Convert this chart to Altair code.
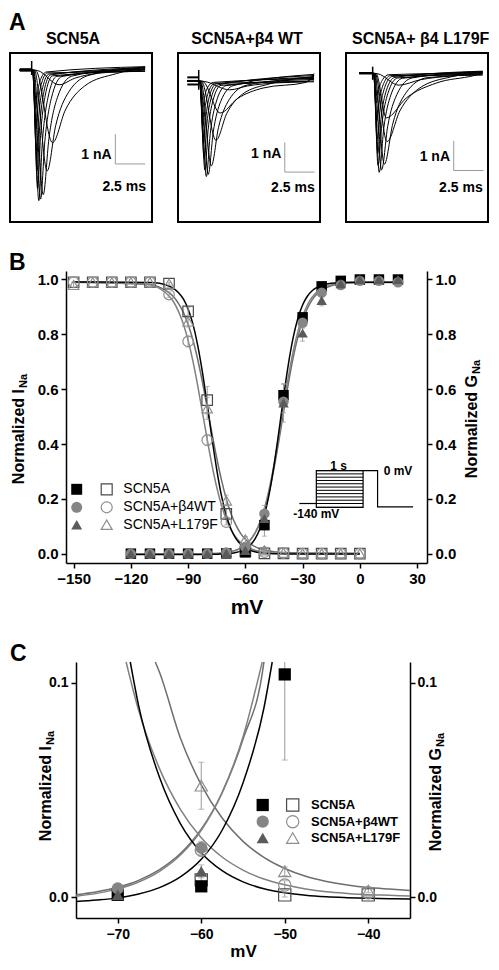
import altair as alt
import pandas as pd

FONT = "Liberation Sans"
ONE = pd.DataFrame({"k": [0]})
W, H = 483, 954  # whole figure drawn in one view (page minus 8px margins)

# ---------------- Panel A: current traces (t in ms, I in nA) ----------------
box_titles = ["SCN5A", "SCN5A+β4 WT", "SCN5A+ β4 L179F"]
t_domain = [[-1.82, 10.11], [-1.74, 10.19], [-2.24, 9.69]]
i_domain = [[-5.12, 0.57], [-4.75, 0.94], [-5.0, 0.68]]
stub_start = [-1.0, -0.96, -1.13]
stub_levels = [[0.0], [0.12, 0.0, -0.12], [0.0]]
stub_width = [3.5, 2, 2.5]
artifact_top = [0.3, 0.37, 0.22]
artifact_bottom = [-0.17, -0.3, -0.22]
trace_end = [9.53, 9.69, 9.24]
bar_t = [7.03, 7.23, 6.81]
bar_i = [-3.165, -3.07, -3.27]
bar_nA = 1.0
bar_ms = 2.5

traces_scn5a = [
    [[0.5, -0.02], [2.3, -0.5], [3.62, -0.28], [5.6, -0.11], [8.9, -0.03]],
    [[0.35, -0.02], [1.75, -2.45], [2.83, -1.35], [4.45, -0.54], [7.15, -0.12]],
    [[0.25, -0.02], [1.3, -3.4], [2.02, -1.87], [3.1, -0.75], [4.9, -0.17]],
    [[0.18, -0.02], [0.97, -4.2], [1.45, -2.31], [2.17, -0.92], [3.37, -0.21]],
    [[0.15, -0.02], [0.75, -4.35], [1.11, -2.39], [1.65, -0.96], [2.55, -0.22]],
    [[0.12, -0.02], [0.6, -4.4], [0.9, -2.42], [1.35, -0.97], [2.1, -0.22]],
    [[0.1, -0.02], [0.5, -4.0], [0.75, -2.2], [1.13, -0.88], [1.76, -0.2]],
    [[0.1, -0.02], [0.45, -3.4], [0.68, -1.87], [1.02, -0.75], [1.59, -0.17]],
    [[0.08, -0.02], [0.4, -2.7], [0.61, -1.49], [0.93, -0.59], [1.45, -0.14]],
    [[0.08, -0.02], [0.36, -2.0], [0.55, -1.1], [0.84, -0.44], [1.32, -0.1]],
    [[0.07, -0.02], [0.33, -1.3], [0.51, -0.72], [0.78, -0.29], [1.23, -0.07]],
]
tail_scn5a = [0.05, 0.1, 0.07, 0.09, 0.04, 0.0, -0.03, 0.08, 0.02, -0.05, 0.11]

traces_b4wt = [
    [[0.5, -0.02], [2.6, -0.3], [4.1, -0.17], [6.35, -0.07], [9.1, -0.02]],
    [[0.35, -0.02], [1.8, -1.08], [3.24, -0.6], [5.4, -0.24], [9.0, -0.05]],
    [[0.25, -0.02], [1.45, -2.0], [2.35, -1.1], [3.7, -0.44], [5.95, -0.1]],
    [[0.2, -0.02], [1.06, -2.86], [1.66, -1.57], [2.56, -0.63], [4.06, -0.14]],
    [[0.15, -0.02], [0.8, -3.15], [1.22, -1.73], [1.85, -0.69], [2.9, -0.16]],
    [[0.12, -0.02], [0.64, -3.22], [0.97, -1.77], [1.47, -0.71], [2.29, -0.16]],
    [[0.1, -0.02], [0.52, -3.0], [0.79, -1.65], [1.2, -0.66], [1.87, -0.15]],
    [[0.1, -0.02], [0.45, -2.6], [0.69, -1.43], [1.05, -0.57], [1.65, -0.13]],
    [[0.08, -0.02], [0.4, -2.1], [0.62, -1.16], [0.94, -0.46], [1.48, -0.1]],
    [[0.08, -0.02], [0.36, -1.5], [0.56, -0.83], [0.86, -0.33], [1.35, -0.08]],
    [[0.07, -0.02], [0.33, -0.9], [0.51, -0.5], [0.78, -0.2], [1.23, -0.05]],
]
tail_b4wt = [0.2, 0.25, 0.15, 0.1, 0.22, 0.05, 0.0, 0.18, 0.12, -0.03, 0.08]

traces_l179f = [
    [[0.45, -0.02], [2.2, -0.4], [4.0, -0.22], [6.7, -0.09], [8.8, -0.03]],
    [[0.3, -0.02], [1.15, -1.5], [2.83, -0.83], [5.35, -0.33], [8.5, -0.08]],
    [[0.22, -0.02], [1.2, -2.3], [2.28, -1.27], [3.9, -0.51], [6.6, -0.12]],
    [[0.18, -0.02], [0.98, -3.06], [1.7, -1.68], [2.78, -0.67], [4.58, -0.15]],
    [[0.15, -0.02], [0.75, -3.25], [1.26, -1.79], [2.03, -0.72], [3.3, -0.16]],
    [[0.12, -0.02], [0.55, -3.33], [0.94, -1.83], [1.53, -0.73], [2.5, -0.17]],
    [[0.1, -0.02], [0.45, -3.1], [0.78, -1.7], [1.28, -0.68], [2.1, -0.16]],
    [[0.1, -0.02], [0.42, -2.7], [0.71, -1.49], [1.14, -0.59], [1.86, -0.14]],
    [[0.08, -0.02], [0.38, -2.2], [0.63, -1.21], [1.01, -0.48], [1.64, -0.11]],
    [[0.08, -0.02], [0.35, -1.6], [0.58, -0.88], [0.92, -0.35], [1.49, -0.08]],
    [[0.07, -0.02], [0.32, -1.0], [0.52, -0.55], [0.83, -0.22], [1.34, -0.05]],
]
tail_l179f = [0.05, 0.0, 0.03, -0.05, 0.06, 0.02, -0.02, 0.07, 0.04, -0.06, 0.01]

all_traces = [traces_scn5a, traces_b4wt, traces_l179f]
all_tails = [tail_scn5a, tail_b4wt, tail_l179f]

# ---------------- Panel B / C: steady-state data ----------------
series = ["SCN5A", "SCN5A+β4WT", "SCN5A+L179F"]
shapes = ["square", "circle", "triangle-up"]
curve_colors = ["#000000", "#808080", "#6e6e6e"]
filled_colors = ["#000000", "#858585", "#5a5a5a"]
open_colors = ["#4a4a4a", "#8e8e8e", "#8e8e8e"]

V_in = [-150, -140, -130, -120, -110, -100, -90, -80, -70, -60, -50, -40, -30, -20, -10, 0]
inact_scn5a = [0.99, 0.99, 0.99, 0.99, 0.99, 0.985, 0.884, 0.56, 0.145, 0.008, 0.001, 0.001, 0.0, 0.0, 0.0, 0.0]
inact_scn5a_err = [0, 0, 0, 0, 0, 0.005, 0.015, 0.05, 0.02, 0.003, 0.001, 0, 0, 0, 0, 0]
inact_b4wt = [0.99, 0.99, 0.99, 0.99, 0.99, 0.945, 0.774, 0.414, 0.115, 0.022, 0.0056, 0.002, 0.0, 0.0, 0.0, 0.0]
inact_b4wt_err = [0, 0, 0, 0, 0, 0.01, 0.02, 0.02, 0.01, 0.003, 0.002, 0, 0, 0, 0, 0]
inact_l179f = [0.98, 0.99, 0.99, 0.99, 0.99, 0.985, 0.847, 0.53, 0.194, 0.052, 0.012, 0.003, 0.001, 0.001, 0.001, 0.001]
inact_l179f_err = [0.01, 0, 0, 0, 0, 0, 0.02, 0.04, 0.02, 0.011, 0.002, 0.001, 0, 0, 0, 0]

V_ac = [-120, -110, -100, -90, -80, -70, -60, -50, -40, -30, -20, -10, 0, 10, 20]
act_scn5a = [0, 0, 0, 0, 0, 0.001, 0.005, 0.104, 0.578, 0.862, 0.975, 0.995, 1.0, 1.0, 1.0]
act_scn5a_err = [0, 0, 0, 0, 0, 0, 0.002, 0.04, 0.04, 0.01, 0.005, 0, 0, 0, 0]
act_b4wt = [0, 0, 0, 0, 0, 0.004, 0.023, 0.146, 0.554, 0.842, 0.952, 0.98, 0.995, 0.995, 0.99]
act_b4wt_err = [0, 0, 0, 0, 0, 0.001, 0.003, 0.03, 0.04, 0.02, 0.01, 0, 0, 0, 0]
act_l179f = [0, 0, 0, 0, 0, 0.001, 0.012, 0.128, 0.55, 0.805, 0.924, 0.985, 1.0, 1.0, 1.0]
act_l179f_err = [0, 0, 0, 0, 0, 0, 0.003, 0.02, 0.07, 0.03, 0.02, 0.005, 0, 0, 0]

# fitted Boltzmann curves
V_fit_in = [-150, -110, -105, -100, -97.5, -95, -92.5, -90, -87.5, -85, -82.5, -80, -77.5, -75,
            -72.5, -70, -67.5, -65, -62.5, -60, -57.5, -55, -52.5, -50, -47.5, -45, -42.5, -40,
            -37.5, -35, -30, -20, 0]
fit_in_scn5a = [0.991, 0.989, 0.986, 0.976, 0.967, 0.952, 0.929, 0.892, 0.838, 0.761, 0.662, 0.544,
                0.421, 0.307, 0.211, 0.140, 0.0894, 0.0559, 0.0343, 0.0207, 0.0123, 0.0071, 0.0039,
                0.0020, 0.0008, 0.0001, -0.0003, -0.0006, -0.0008, -0.0009, -0.001, -0.001, -0.001]
fit_in_b4wt = [0.992, 0.981, 0.968, 0.940, 0.917, 0.883, 0.838, 0.778, 0.703, 0.614, 0.516, 0.417,
               0.3235, 0.2424, 0.1763, 0.1252, 0.0872, 0.0600, 0.0410, 0.0277, 0.0187, 0.0126, 0.0084,
               0.0057, 0.0038, 0.0025, 0.0017, 0.0011, 0.0008, 0.0005, 0.0002, 0.0, 0.0]
fit_in_l179f = [0.990, 0.982, 0.972, 0.952, 0.936, 0.912, 0.880, 0.836, 0.780, 0.709, 0.626, 0.534,
                0.439, 0.349, 0.268, 0.200, 0.146, 0.105, 0.0743, 0.0524, 0.0369, 0.0260, 0.0185,
                0.0133, 0.0097, 0.0073, 0.0056, 0.0044, 0.0037, 0.0031, 0.0025, 0.0021, 0.002]

V_fit_ac = [-120, -90, -80, -77.5, -75, -72.5, -70, -67.5, -65, -62.5, -60, -57.5, -55, -52.5, -50,
            -47.5, -45, -42.5, -40, -37.5, -35, -32.5, -30, -27.5, -25, -22.5, -20, -15, -10, -5, 0, 20]
fit_ac_scn5a = [-0.003, -0.003, -0.0027, -0.0025, -0.0021, -0.0014, -0.0004, 0.0014, 0.0044, 0.0094,
                0.0176, 0.0312, 0.0533, 0.0882, 0.1414, 0.218, 0.320, 0.442, 0.570, 0.689, 0.786,
                0.858, 0.907, 0.939, 0.959, 0.971, 0.979, 0.986, 0.989, 0.990, 0.990, 0.990]
fit_ac_b4wt = [-0.002, -0.0018, -0.0010, -0.00045, 0.0004, 0.0017, 0.0038, 0.0070, 0.0120, 0.0196,
               0.0312, 0.0488, 0.0748, 0.1126, 0.1656, 0.2365, 0.325, 0.429, 0.538, 0.643, 0.735,
               0.810, 0.866, 0.907, 0.935, 0.954, 0.967, 0.980, 0.986, 0.988, 0.990, 0.990]
fit_ac_l179f = [-0.0015, -0.0013, -0.0004, 0.0002, 0.0011, 0.0025, 0.0046, 0.0078, 0.0128, 0.0203,
                0.0317, 0.0487, 0.0737, 0.1096, 0.1598, 0.2267, 0.311, 0.409, 0.515, 0.619, 0.713,
                0.790, 0.850, 0.894, 0.926, 0.947, 0.961, 0.977, 0.984, 0.987, 0.989, 0.989]

# where each fitted curve leaves the top of panel C (mV)
C_exit_in = [-68.5, -69.0, -65.5]
C_exit_ac = [-51.5, -52.7, -52.5]

# voltage-protocol inset (drawn in panel-B data units)
proto_hold_V = [-31.7, -22.8]
proto_hold_level = 0.183
proto_box_V = [-22.8, 1.7]
proto_box_levels = [0.303, 0.291, 0.279, 0.267, 0.255, 0.243, 0.231, 0.219, 0.207, 0.195, 0.183, 0.169]
proto_test_V = [1.7, 9.3, 9.3, 27.9]
proto_test_level = [0.303, 0.303, 0.171, 0.171]


# ---------------- helpers ----------------
def sc(domain, rng):
    return alt.Scale(domain=domain, range=rng, nice=False, zero=False)


def txt(s, x, y, size, weight="bold", align="left", baseline="alphabetic", angle=0, color="black"):
    return alt.Chart(ONE).mark_text(
        text=s, font=FONT, fontSize=size, fontWeight=weight, align=align,
        baseline=baseline, angle=angle, color=color
    ).encode(x=alt.value(x), y=alt.value(y))


def ytitle(main, sub, x, yj, size=16, subsize=11, dx=5):
    return [
        txt(main, x, yj, size, align="right", baseline="middle", angle=270),
        txt(sub, x + dx, yj - 1, subsize, align="left", baseline="middle", angle=270),
    ]


def axis_common(**kw):
    base = dict(labelFont=FONT, labelFontWeight="bold", labelColor="black", titleFont=FONT,
                titleFontWeight="bold", titleColor="black", tickColor="black", domainColor="black",
                tickWidth=1.5, domainWidth=1.5, tickSize=5, grid=False, labelFlush=False,
                labelOverlap=False)
    base.update(kw)
    return alt.Axis(**base)


layers = []

# ---------------- Panel A ----------------
rows = []
for b, (trs, tails) in enumerate(zip(all_traces, all_tails)):
    for k, pts in enumerate(trs):
        full = [[stub_start[b], 0.0], [0.0, 0.0]] + pts + [[trace_end[b], tails[k]]]
        for j, (t, i) in enumerate(full):
            rows.append({"box": b, "trace": k, "ord": j, "t": t, "I": i})
trace_df = pd.DataFrame(rows)

srows = []
for b in range(3):
    for li, lv in enumerate(stub_levels[b]):
        srows.append({"box": b, "lvl": li, "t": stub_start[b], "I": lv})
        srows.append({"box": b, "lvl": li, "t": 0.0, "I": lv})
stub_df = pd.DataFrame(srows)

box_left = [2, 170, 338]
box_w = 142
box_top, box_bottom = 45, 214
title_x = [65, 239, 412.7]
nA_x = [103.7, 273.3, 442]
nA_y = [147, 146.3, 148.7]
ms_x = [138, 306.7, 474.7]
ms_y = [178.7, 180.3, 180.3]

for b in range(3):
    xs = sc(t_domain[b], [box_left[b], box_left[b] + box_w])
    ys = sc(i_domain[b], [box_bottom, box_top])

    def X(f, xs=xs):
        return alt.X(f, type="quantitative", scale=xs, axis=None)

    def Y(f, ys=ys):
        return alt.Y(f, type="quantitative", scale=ys, axis=None)

    layers.append(alt.Chart(trace_df[trace_df.box == b]).mark_line(
        color="black", strokeWidth=1.0, interpolate="monotone"
    ).encode(x=X("t"), y=Y("I"), detail="trace:N", order="ord:Q"))
    layers.append(alt.Chart(stub_df[stub_df.box == b]).mark_line(
        color="black", strokeWidth=stub_width[b]
    ).encode(x=X("t"), y=Y("I"), detail="lvl:N"))
    ad = pd.DataFrame({"t": [0.0], "a": [artifact_top[b]], "z": [artifact_bottom[b]]})
    layers.append(alt.Chart(ad).mark_rule(color="black", strokeWidth=1.5).encode(
        x=X("t"), y=Y("a"), y2="z"))
    bd = pd.DataFrame({"t": [bar_t[b]], "t2": [bar_t[b] + bar_ms],
                       "i": [bar_i[b]], "i2": [bar_i[b] + bar_nA]})
    layers.append(alt.Chart(bd).mark_rule(color="#9a9a9a", strokeWidth=1).encode(
        x=X("t"), y=Y("i"), y2="i2"))
    layers.append(alt.Chart(bd).mark_rule(color="#9a9a9a", strokeWidth=1).encode(
        x=X("t"), x2="t2", y=Y("i")))
    layers.append(alt.Chart(ONE).mark_rect(fill=None, stroke="black", strokeWidth=2).encode(
        x=alt.value(box_left[b]), x2=alt.value(box_left[b] + box_w),
        y=alt.value(box_top), y2=alt.value(box_bottom)))
    layers.append(txt("1 nA", nA_x[b], nA_y[b], 14, align="right", baseline="middle"))
    layers.append(txt("2.5 ms", ms_x[b], ms_y[b], 14, align="right", baseline="middle"))
    layers.append(txt(box_titles[b], title_x[b], 31, 16, align="center", baseline="middle"))
layers.append(txt("A", 1, 22, 23))

# ---------------- Panel B / C data frames ----------------
curve_rows = []
fits_in = [fit_in_scn5a, fit_in_b4wt, fit_in_l179f]
fits_ac = [fit_ac_scn5a, fit_ac_b4wt, fit_ac_l179f]
for s in range(3):
    for v, y in zip(V_fit_in, fits_in[s]):
        curve_rows.append({"s": s, "kind": "in", "V": v, "val": y})
    for v, y in zip(V_fit_ac, fits_ac[s]):
        curve_rows.append({"s": s, "kind": "ac", "V": v, "val": y})
curve_df = pd.DataFrame(curve_rows)

pt_rows = []
ins = [(inact_scn5a, inact_scn5a_err), (inact_b4wt, inact_b4wt_err), (inact_l179f, inact_l179f_err)]
acs = [(act_scn5a, act_scn5a_err), (act_b4wt, act_b4wt_err), (act_l179f, act_l179f_err)]
for s in range(3):
    for v, y, e in zip(V_in, ins[s][0], ins[s][1]):
        pt_rows.append({"s": s, "kind": "in", "V": v, "val": y, "lo": y - e, "hi": y + e, "err": e})
    for v, y, e in zip(V_ac, acs[s][0], acs[s][1]):
        pt_rows.append({"s": s, "kind": "ac", "V": v, "val": y, "lo": y - e, "hi": y + e, "err": e})
pt_df = pd.DataFrame(pt_rows)


def panel_layers(xs, ys, psize, cap, xlo, xhi, ytop, exits=None):
    def X(f):
        return alt.X(f, type="quantitative", scale=xs, axis=None)

    def Y(f):
        return alt.Y(f, type="quantitative", scale=ys, axis=None)

    out = []
    for s in [2, 1, 0]:
        for kind in ["in", "ac"]:
            cd = curve_df[(curve_df.s == s) & (curve_df.kind == kind) &
                          (curve_df.V >= xlo) & (curve_df.V <= xhi) & (curve_df.val <= ytop)]
            cd = cd[["V", "val"]]
            if exits is not None:
                ev = exits[0][s] if kind == "in" else exits[1][s]
                cd = pd.concat([cd, pd.DataFrame({"V": [ev], "val": [ytop]})]).sort_values("V")
            out.append(alt.Chart(cd).mark_line(
                color=curve_colors[s], strokeWidth=1.5, interpolate="monotone"
            ).encode(x=X("V"), y=Y("val"), order="V:Q"))
    pd_ = pt_df[(pt_df.V >= xlo) & (pt_df.V <= xhi) & (pt_df.val <= ytop)].copy()
    ed = pd_[pd_.err > 0].copy()
    ed["hic"] = ed["hi"].clip(upper=ytop)
    out.append(alt.Chart(ed).mark_rule(color="#9a9a9a", strokeWidth=1).encode(
        x=X("V"), y=Y("lo"), y2="hic"))
    out.append(alt.Chart(ed).mark_tick(color="#9a9a9a", thickness=1, size=cap,
                                       orient="horizontal").encode(x=X("V"), y=Y("lo")))
    out.append(alt.Chart(ed[ed.hi <= ytop]).mark_tick(color="#9a9a9a", thickness=1, size=cap,
                                                      orient="horizontal").encode(x=X("V"), y=Y("hi")))
    for s in range(3):
        out.append(alt.Chart(pd_[(pd_.s == s) & (pd_.kind == "in")]).mark_point(
            shape=shapes[s], filled=False, color=open_colors[s], size=psize, strokeWidth=1.2,
            opacity=1
        ).encode(x=X("V"), y=Y("val")))
    for s in range(3):
        out.append(alt.Chart(pd_[(pd_.s == s) & (pd_.kind == "ac")]).mark_point(
            shape=shapes[s], filled=True, color=filled_colors[s], size=psize, opacity=1
        ).encode(x=X("V"), y=Y("val")))
    return out


def legend_layers(fx, ox, tx, ys_, size, weight, psize):
    out = []
    for s in range(3):
        out.append(alt.Chart(ONE).mark_point(shape=shapes[s], filled=True, color=filled_colors[s],
                                             size=psize, opacity=1).encode(
            x=alt.value(fx), y=alt.value(ys_[s])))
        out.append(alt.Chart(ONE).mark_point(shape=shapes[s], filled=False, color=open_colors[s],
                                             size=psize, strokeWidth=1.2, opacity=1).encode(
            x=alt.value(ox), y=alt.value(ys_[s])))
        out.append(txt(series[s], tx, ys_[s], size, weight=weight, baseline="middle"))
    return out


# ---------------- Panel B ----------------
BL, BR, BT, BB = 58, 419, 263, 555
xsB = sc([-154, 35.2], [BL, BR])
ysB = sc([-0.034, 1.031], [BB, BT])
axBx = axis_common(values=[-150, -120, -90, -60, -30, 0, 30], title="mV", labelFontSize=15,
                   titleFontSize=21, labelPadding=3, titlePadding=10, orient="bottom",
                   offset=BB - H)
axBy = axis_common(values=[0, 0.2, 0.4, 0.6, 0.8, 1.0], format=".1f", title=None,
                   labelFontSize=15, labelPadding=3, orient="left", offset=-BL)
axBr = axis_common(values=[0, 0.2, 0.4, 0.6, 0.8, 1.0], format=".1f", title=None,
                   labelFontSize=15, labelPadding=3, orient="right", offset=BR - W)

layers.append(alt.Chart(pt_df).mark_point(opacity=0).encode(
    x=alt.X("V:Q", scale=xsB, axis=axBx), y=alt.Y("val:Q", scale=ysB, axis=axBy)))
layers.append(alt.Chart(pt_df).mark_point(opacity=0).encode(
    x=alt.X("V:Q", scale=xsB, axis=None), y=alt.Y("val:Q", scale=ysB, axis=axBr)))
layers += panel_layers(xsB, ysB, 110, 5, -160, 40, 2.0)

hold_df = pd.DataFrame({"V": proto_hold_V, "val": [proto_hold_level] * 2})
layers.append(alt.Chart(hold_df).mark_line(color="black", strokeWidth=1.2).encode(
    x=alt.X("V:Q", scale=xsB, axis=None), y=alt.Y("val:Q", scale=ysB, axis=None)))
hatch_df = pd.DataFrame({"V": [proto_box_V[0]] * len(proto_box_levels),
                         "V2": [proto_box_V[1]] * len(proto_box_levels),
                         "val": proto_box_levels})
layers.append(alt.Chart(hatch_df).mark_rule(color="black", strokeWidth=1).encode(
    x=alt.X("V:Q", scale=xsB, axis=None), x2="V2", y=alt.Y("val:Q", scale=ysB, axis=None)))
box_df = pd.DataFrame({"V": [proto_box_V[0]], "V2": [proto_box_V[1]],
                       "lo": [proto_box_levels[-1]], "hi": [proto_box_levels[0]]})
layers.append(alt.Chart(box_df).mark_rect(fill=None, stroke="black", strokeWidth=1.2).encode(
    x=alt.X("V:Q", scale=xsB, axis=None), x2="V2",
    y=alt.Y("lo:Q", scale=ysB, axis=None), y2="hi"))
test_df = pd.DataFrame({"V": proto_test_V, "val": proto_test_level, "o": [0, 1, 2, 3]})
layers.append(alt.Chart(test_df).mark_line(color="black", strokeWidth=1.2).encode(
    x=alt.X("V:Q", scale=xsB, axis=None), y=alt.Y("val:Q", scale=ysB, axis=None), order="o:Q"))
for label, lv, ly in [("1 s", -11.1, 0.321), ("0 mV", 20.0, 0.30), ("-140 mV", -22.8, 0.145)]:
    layers.append(alt.Chart(ONE).mark_text(text=label, font=FONT, fontSize=12, fontWeight="bold",
                                           align="center", baseline="middle").encode(
        x=alt.X(datum=lv, scale=xsB, axis=None), y=alt.Y(datum=ly, scale=ysB, axis=None)))

layers += legend_layers(68.7, 98.7, 115.3, [481.3, 499.3, 516.7], 14, "normal", 120)
layers.append(txt("B", 1, 262, 23))
layers += ytitle("Normalized I", "Na", 11, 381)
layers += ytitle("Normalized G", "Na", 463.7, 367)

# ---------------- Panel C ----------------
CL, CR, CT, CB = 68, 402, 654, 910
C_TOP = 0.1098
xsC = sc([-75, -35], [CL, CR])
ysC = sc([-0.0098, C_TOP], [CB, CT])
axCx = axis_common(values=[-70, -60, -50, -40], title="mV", labelFontSize=14,
                   titleFontSize=17, labelPadding=4, titlePadding=2, orient="bottom",
                   offset=CB - H)
axCy = axis_common(values=[0, 0.1], format=".1f", title=None, labelFontSize=14, labelPadding=3,
                   orient="left", offset=-CL)
axCr = axis_common(values=[0, 0.1], format=".1f", title=None, labelFontSize=14, labelPadding=2,
                   orient="right", offset=CR - W)

cax = pd.DataFrame({"V": [-75, -35], "val": [0.0, 0.1]})
layers.append(alt.Chart(cax).mark_point(opacity=0).encode(
    x=alt.X("V:Q", scale=xsC, axis=axCx), y=alt.Y("val:Q", scale=ysC, axis=axCy)))
layers.append(alt.Chart(cax).mark_point(opacity=0).encode(
    x=alt.X("V:Q", scale=xsC, axis=None), y=alt.Y("val:Q", scale=ysC, axis=axCr)))
layers += panel_layers(xsC, ysC, 150, 6, -75, -35, C_TOP, exits=(C_exit_in, C_exit_ac))
layers += legend_layers(254.7, 284.7, 303, [797, 813.7, 830], 13, "bold", 150)
layers.append(txt("C", 2, 653, 23))
layers += ytitle("Normalized I", "Na", 38, 738)
layers += ytitle("Normalized G", "Na", 428, 740)

chart = alt.layer(*layers).resolve_scale(x="independent", y="independent").properties(
    width=W, height=H, autosize=alt.AutoSizeParams(type="none"), padding=0
).configure_view(strokeWidth=0, stroke="transparent")

chart.save("out.html", embed_options={"renderer": "svg", "actions": False})
